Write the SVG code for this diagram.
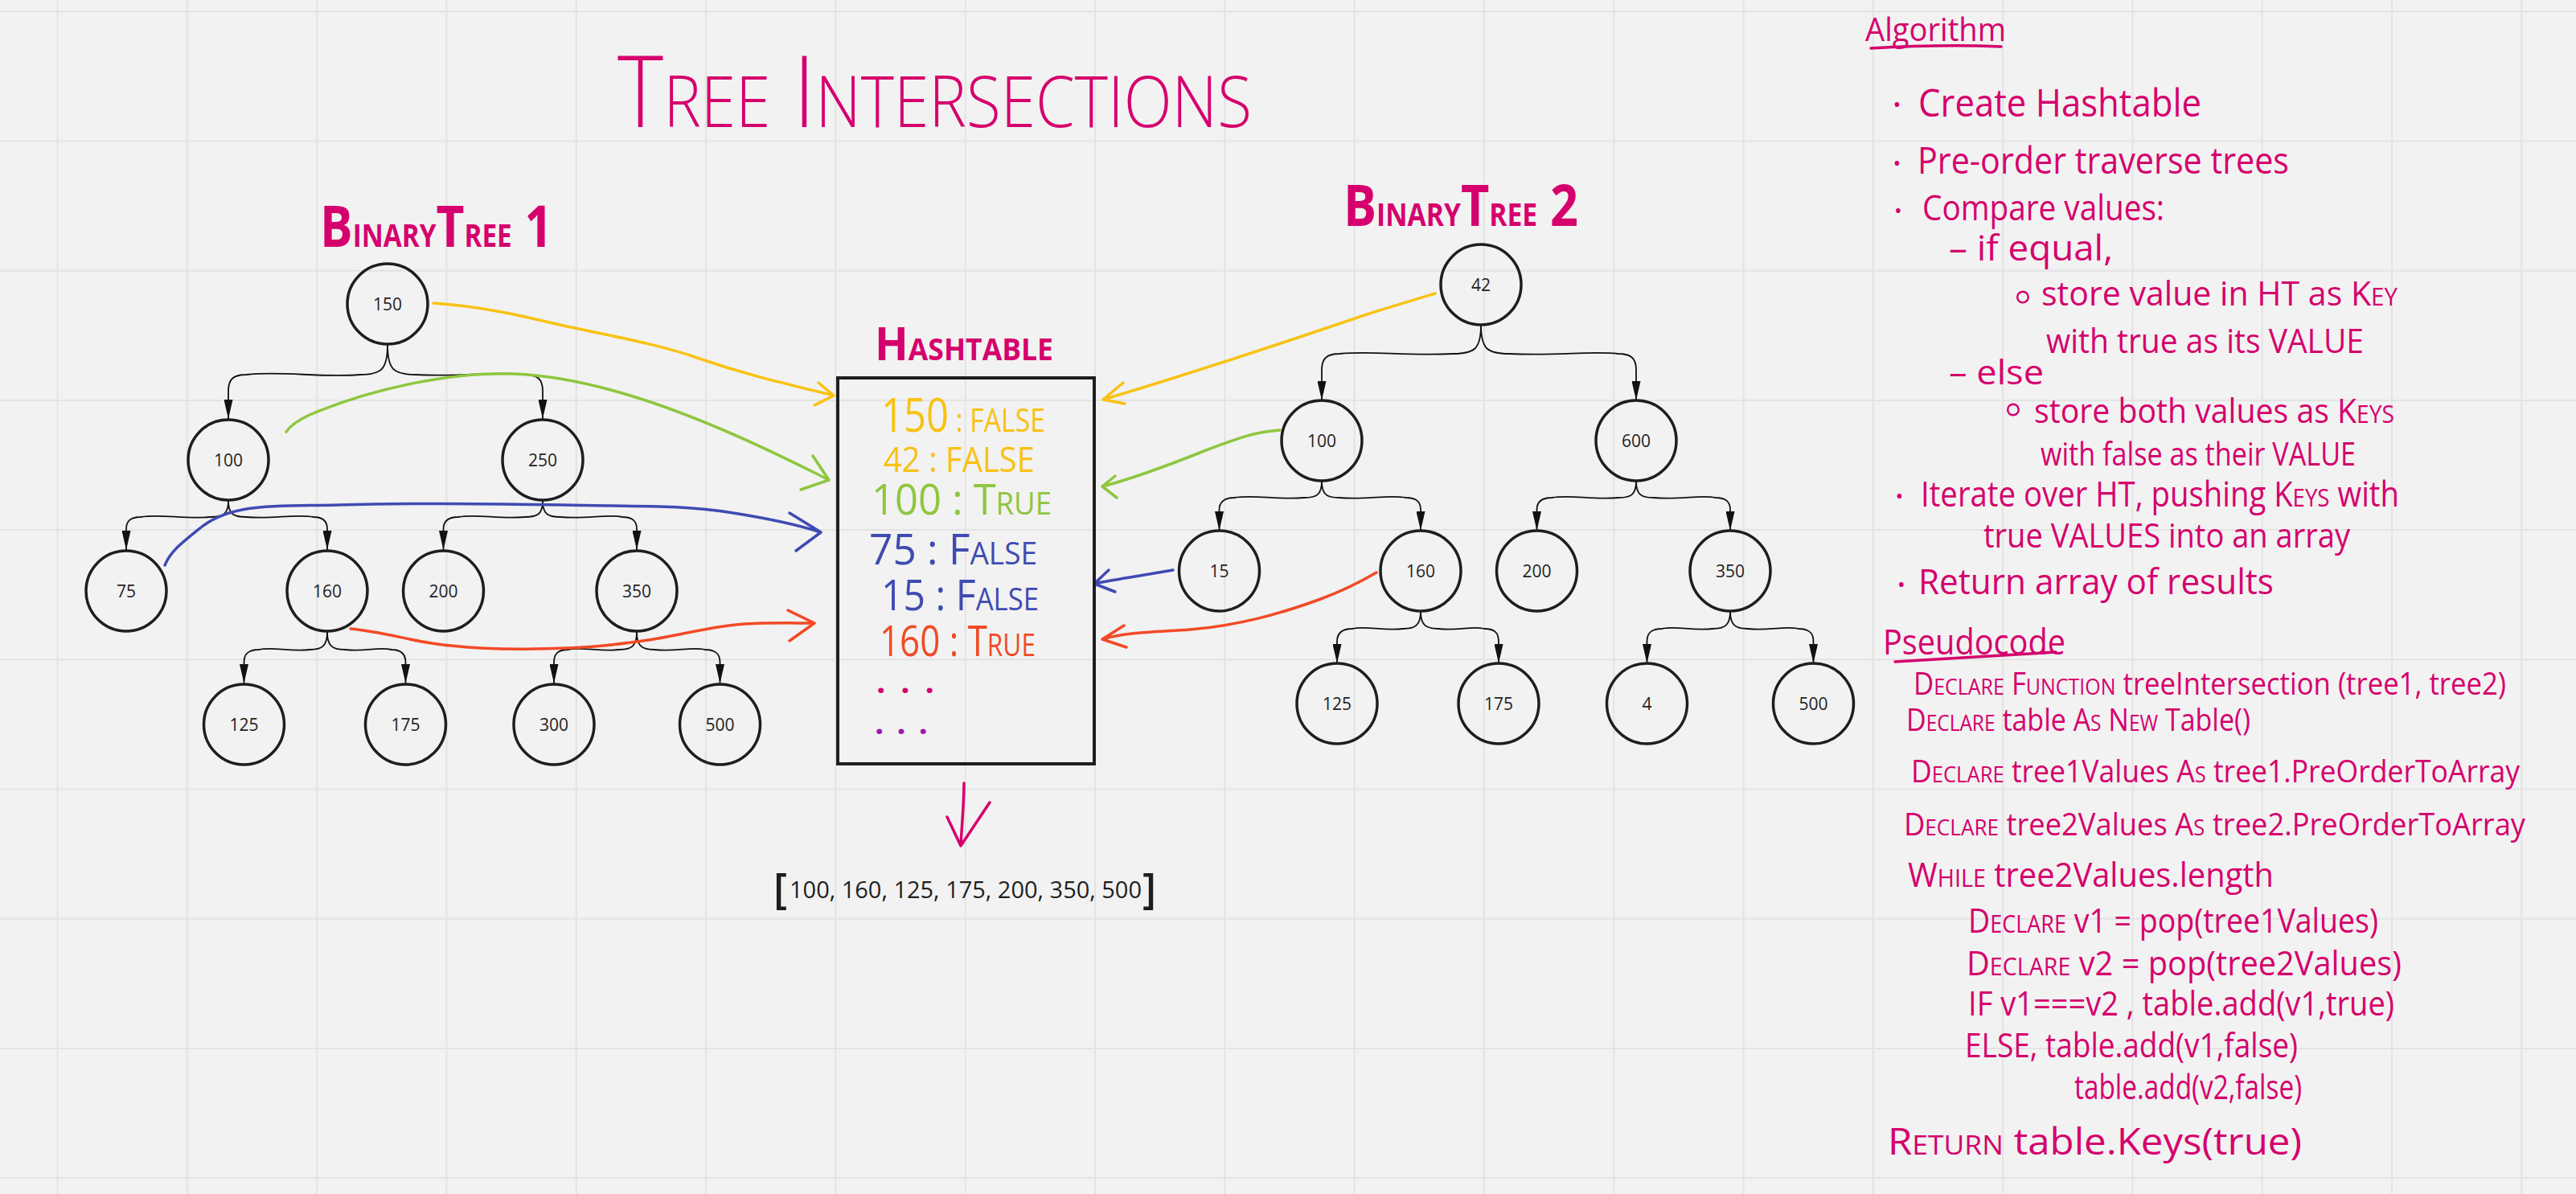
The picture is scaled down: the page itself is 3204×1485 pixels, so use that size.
<svg xmlns="http://www.w3.org/2000/svg" width="3204" height="1485" viewBox="0 0 3204 1485">
<defs>
<style>
.hw{font-family:"Open Sans","Liberation Sans",sans-serif;fill:#d5006d}
.s{font-size:72%}
.s2{font-size:55%}
.s3{font-size:65%}
.node circle{fill:none;stroke:#1e1e1e;stroke-width:3.5}
.node text{font-family:"Open Sans","Liberation Sans",sans-serif;font-size:21px;fill:#222;text-anchor:middle}
.edge{fill:none;stroke:#111;stroke-width:1.8;marker-end:url(#ah)}
.pen{fill:none;stroke-width:3.5;stroke-linecap:round;stroke-linejoin:round}
.alg{font-family:"Open Sans","Liberation Sans",sans-serif;fill:#d5006d}
</style>
<marker id="ah" markerUnits="userSpaceOnUse" markerWidth="24" markerHeight="11" viewBox="0 0 24 11" refX="24" refY="5.5" orient="auto">
<path d="M0,0 L24,5.5 L0,11 z" fill="#111"/>
</marker>
</defs>
<rect width="3204" height="1485" fill="#f2f2f2"/>
<path d="M71.6,0V1485M232.9,0V1485M394.2,0V1485M555.5,0V1485M716.8,0V1485M878.1,0V1485M1039.4,0V1485M1200.7,0V1485M1362,0V1485M1523.3,0V1485M1684.6,0V1485M1845.9,0V1485M2007.2,0V1485M2168.5,0V1485M2329.8,0V1485M2491.1,0V1485M2652.4,0V1485M2813.7,0V1485M2975,0V1485M3136.3,0V1485M0,14.3H3204M0,175.5H3204M0,336.7H3204M0,497.9H3204M0,659.1H3204M0,820.3H3204M0,981.5H3204M0,1142.7H3204M0,1303.9H3204M0,1465.1H3204" stroke="#e3e3e3" stroke-width="2" fill="none"/>

<text class="hw" x="768" y="158" font-size="124" font-weight="300" textLength="789" lengthAdjust="spacingAndGlyphs">T<tspan class="s">REE</tspan> I<tspan class="s">NTERSECTIONS</tspan></text>
<text class="hw" x="398" y="307" font-size="72" font-weight="700" textLength="289" lengthAdjust="spacingAndGlyphs">B<tspan class="s2">INARY</tspan>T<tspan class="s2">REE</tspan> 1</text>
<text class="hw" x="1671" y="281" font-size="72" font-weight="700" textLength="292" lengthAdjust="spacingAndGlyphs">B<tspan class="s2">INARY</tspan>T<tspan class="s2">REE</tspan> 2</text>
<text class="hw" x="1088" y="448" font-size="58" font-weight="700" textLength="222" lengthAdjust="spacingAndGlyphs">H<tspan class="s3">ASHTABLE</tspan></text>

<g id="connectors">
<path class="edge" d="M482,429 C482,460 474,466 447,466 C400,470 350,461 306,466 C290,466 284,472 284,486 L284,521"/>
<path class="edge" d="M482,429 C482,460 490,466 517,466 C580,469 620,461 653,466 C669,466 675,472 675,486 L675,521"/>
<path class="edge" d="M284,623 C284,639 278,643 262,643 C230,646 200,639 175,643 C162,643 157,648 157,658 L157,684"/>
<path class="edge" d="M284,623 C284,639 290,643 306,643 C340,646 365,639 390,643 C402,643 407,648 407,658 L407,684"/>
<path class="edge" d="M675,623 C675,639 669,643 653,643 C620,646 595,639 570,643 C557,643 551.5,648 551.5,658 L551.5,684"/>
<path class="edge" d="M675,623 C675,639 681,643 697,643 C730,646 755,639 774,643 C787,643 792,648 792,658 L792,684"/>
<path class="edge" d="M407,786 C407,803 401,808 385,808 C360,811 340,804 322,808 C309,808 303.5,813 303.5,824 L303.5,850"/>
<path class="edge" d="M407,786 C407,803 413,808 429,808 C455,811 470,804 487,808 C499,808 504.5,813 504.5,824 L504.5,850"/>
<path class="edge" d="M792,786 C792,803 786,808 770,808 C745,811 725,804 707,808 C694,808 689,813 689,824 L689,850"/>
<path class="edge" d="M792,786 C792,803 798,808 814,808 C840,811 860,804 877,808 C890,808 895.5,813 895.5,824 L895.5,850"/>
<path class="edge" d="M1842,404 C1842,434 1834,440 1807,440 C1745,443 1710,436 1666,440 C1650,440 1644,446 1644,460 L1644,498"/>
<path class="edge" d="M1842,404 C1842,434 1850,440 1877,440 C1940,443 1975,436 2013,440 C2029,440 2035,446 2035,460 L2035,498"/>
<path class="edge" d="M1644,598 C1644,615 1638,619 1622,619 C1590,622 1560,615 1535,619 C1522,619 1516.5,624 1516.5,634 L1516.5,660"/>
<path class="edge" d="M1644,598 C1644,615 1650,619 1666,619 C1700,622 1725,615 1749,619 C1762,619 1767,624 1767,634 L1767,660"/>
<path class="edge" d="M2035,598 C2035,615 2029,619 2013,619 C1980,622 1955,615 1930,619 C1917,619 1911.5,624 1911.5,634 L1911.5,660"/>
<path class="edge" d="M2035,598 C2035,615 2041,619 2057,619 C2090,622 2115,615 2134,619 C2147,619 2152,624 2152,634 L2152,660"/>
<path class="edge" d="M1767,760 C1767,777 1761,782 1745,782 C1720,785 1700,778 1682,782 C1669,782 1663,787 1663,798 L1663,825"/>
<path class="edge" d="M1767,760 C1767,777 1773,782 1789,782 C1815,785 1830,778 1846,782 C1859,782 1864,787 1864,798 L1864,825"/>
<path class="edge" d="M2152,760 C2152,777 2146,782 2130,782 C2105,785 2085,778 2067,782 C2054,782 2048.5,787 2048.5,798 L2048.5,825"/>
<path class="edge" d="M2152,760 C2152,777 2158,782 2174,782 C2200,785 2220,778 2237,782 C2250,782 2255.5,787 2255.5,798 L2255.5,825"/>

<path class="pen" stroke="#f8c213" d="M539,377 C600,381 650,393 701,405 C760,418 820,428 870,446 C940,470 990,480 1037,492 M1018,476 L1037,492 L1013,504"/>
<path class="pen" stroke="#f8c213" d="M1785,365 C1745,377 1725,383 1700,391 C1600,425 1480,465 1372,497 M1397,476 L1372,497 L1399,502"/>
<path class="pen" stroke="#8ec63f" d="M356,537 C362,528 372,522 385,516 C470,480 570,462 640,465 C760,470 900,530 1031,597 M1011,567 L1031,597 L996,609"/>
<path class="pen" stroke="#8ec63f" d="M1592,535 C1560,537 1540,545 1500,560 C1450,580 1410,595 1371,605 M1387,592 L1371,605 L1389,619"/>
<path class="pen" stroke="#3f4bb2" d="M205,703 C212,686 225,676 250,656 C290,624 350,630 421,628 C500,626 600,626 700,628 C800,630 850,628 912,638 C950,644 990,652 1021,662 M982,638 L1021,662 L990,685"/>
<path class="pen" stroke="#3f4bb2" d="M1459,709 C1420,716 1390,720 1361,726 M1379,709 L1361,726 L1387,736"/>
<path class="pen" stroke="#f24a26" d="M436,782 C480,786 520,800 561,803 C600,807 630,808 666,807 C740,806 780,800 807,796 C850,789 890,778 926,776 C960,774 990,775 1013,775 M980,759 L1013,775 L982,797"/>
<path class="pen" stroke="#f24a26" d="M1712,712 C1690,725 1670,735 1640,746 C1590,764 1540,778 1480,783 C1440,786 1400,786 1371,795 M1398,778 L1371,795 L1401,805"/>
<path class="pen" stroke="#d5006d" d="M1199,974 C1199,1000 1196,1030 1195,1052 M1178,1016 L1195,1052 L1231,998"/>
</g>

<g id="tree1">
<g class="node" id="t1-150"><circle cx="482" cy="378" r="50"/><text x="482" y="385.5">150</text></g>
<g class="node" id="t1-100"><circle cx="284" cy="572" r="50"/><text x="284" y="579.5">100</text></g>
<g class="node" id="t1-250"><circle cx="675" cy="572" r="50"/><text x="675" y="579.5">250</text></g>
<g class="node" id="t1-75"><circle cx="157" cy="735" r="50"/><text x="157" y="742.5">75</text></g>
<g class="node" id="t1-160"><circle cx="407" cy="735" r="50"/><text x="407" y="742.5">160</text></g>
<g class="node" id="t1-200"><circle cx="551.5" cy="735" r="50"/><text x="551.5" y="742.5">200</text></g>
<g class="node" id="t1-350"><circle cx="792" cy="735" r="50"/><text x="792" y="742.5">350</text></g>
<g class="node" id="t1-125"><circle cx="303.5" cy="901" r="50"/><text x="303.5" y="908.5">125</text></g>
<g class="node" id="t1-175"><circle cx="504.5" cy="901" r="50"/><text x="504.5" y="908.5">175</text></g>
<g class="node" id="t1-300"><circle cx="689" cy="901" r="50"/><text x="689" y="908.5">300</text></g>
<g class="node" id="t1-500"><circle cx="895.5" cy="901" r="50"/><text x="895.5" y="908.5">500</text></g>
</g>

<g id="tree2">
<g class="node" id="t2-42"><circle cx="1842" cy="354" r="50"/><text x="1842" y="361.5">42</text></g>
<g class="node" id="t2-100"><circle cx="1644" cy="548" r="50"/><text x="1644" y="555.5">100</text></g>
<g class="node" id="t2-600"><circle cx="2035" cy="548" r="50"/><text x="2035" y="555.5">600</text></g>
<g class="node" id="t2-15"><circle cx="1516.5" cy="710" r="50"/><text x="1516.5" y="717.5">15</text></g>
<g class="node" id="t2-160"><circle cx="1767" cy="710" r="50"/><text x="1767" y="717.5">160</text></g>
<g class="node" id="t2-200"><circle cx="1911.5" cy="710" r="50"/><text x="1911.5" y="717.5">200</text></g>
<g class="node" id="t2-350"><circle cx="2152" cy="710" r="50"/><text x="2152" y="717.5">350</text></g>
<g class="node" id="t2-125"><circle cx="1663" cy="875" r="50"/><text x="1663" y="882.5">125</text></g>
<g class="node" id="t2-175"><circle cx="1864" cy="875" r="50"/><text x="1864" y="882.5">175</text></g>
<g class="node" id="t2-4"><circle cx="2048.5" cy="875" r="50"/><text x="2048.5" y="882.5">4</text></g>
<g class="node" id="t2-500"><circle cx="2255.5" cy="875" r="50"/><text x="2255.5" y="882.5">500</text></g>
</g>

<g id="hashtable">
<rect x="1042" y="470" width="319" height="480" fill="none" stroke="#1e1e1e" stroke-width="4"/>
<text class="hw" x="1096" y="537" font-size="40" style="fill:#f8c213" textLength="204" lengthAdjust="spacingAndGlyphs"><tspan font-size="58">150</tspan> : FALSE</text>
<text class="hw" x="1099" y="587" font-size="44" style="fill:#f8c213" textLength="188" lengthAdjust="spacingAndGlyphs">42 : FALSE</text>
<text class="hw" x="1084" y="640" font-size="53" style="fill:#8ec63f" textLength="224" lengthAdjust="spacingAndGlyphs">100 : T<tspan class="s">RUE</tspan></text>
<text class="hw" x="1081" y="702" font-size="53" style="fill:#3f4bb2" textLength="209" lengthAdjust="spacingAndGlyphs">75 : F<tspan class="s">ALSE</tspan></text>
<text class="hw" x="1096" y="759" font-size="53" style="fill:#3f4bb2" textLength="196" lengthAdjust="spacingAndGlyphs">15 : F<tspan class="s">ALSE</tspan></text>
<text class="hw" x="1094" y="816" font-size="53" style="fill:#f24a26" textLength="194" lengthAdjust="spacingAndGlyphs">160 : T<tspan class="s">RUE</tspan></text>
<text class="hw" x="1090" y="862" font-size="40" font-weight="700" textLength="72" lengthAdjust="spacing">. . .</text>
<text class="hw" x="1088" y="913" font-size="40" font-weight="700" style="fill:#9c1ab1" textLength="66" lengthAdjust="spacing">. . .</text>
</g>

<g id="result">
<text x="962" y="1124" font-family="Open Sans, Liberation Sans, sans-serif" font-size="52" font-weight="600" fill="#1e1e1e">[</text>
<text x="982" y="1117" font-family="Open Sans, Liberation Sans, sans-serif" font-size="29" fill="#1e1e1e" textLength="438" lengthAdjust="spacingAndGlyphs">100, 160, 125, 175, 200, 350, 500</text>
<text x="1421" y="1124" font-family="Open Sans, Liberation Sans, sans-serif" font-size="52" font-weight="600" fill="#1e1e1e">]</text>
</g>

<g id="algorithm" class="alg">
<text x="2320" y="51" font-size="40" textLength="175" lengthAdjust="spacingAndGlyphs">Algorithm</text>
<path class="pen" stroke="#d5006d" d="M2327,60 C2380,57 2440,56 2489,58"/>
<text x="2359.5" y="139" font-size="26" text-anchor="middle">•</text>
<text x="2386" y="145" font-size="48" textLength="352" lengthAdjust="spacingAndGlyphs">Create Hashtable</text>
<text x="2359.5" y="212" font-size="26" text-anchor="middle">•</text>
<text x="2385" y="216" font-size="46" textLength="462" lengthAdjust="spacingAndGlyphs">Pre-order traverse trees</text>
<text x="2361" y="271" font-size="26" text-anchor="middle">•</text>
<text x="2391" y="274" font-size="44" textLength="301" lengthAdjust="spacingAndGlyphs">Compare values:</text>
<text x="2424" y="324" font-size="44" textLength="204" lengthAdjust="spacingAndGlyphs">– if equal,</text>
<text x="2516" y="390" font-size="66" text-anchor="middle">◦</text>
<text x="2539" y="380" font-size="42" textLength="443" lengthAdjust="spacingAndGlyphs">store value in HT as K<tspan class="s">EY</tspan></text>
<text x="2545" y="439" font-size="42" textLength="395" lengthAdjust="spacingAndGlyphs">with true as its VALUE</text>
<text x="2424" y="478" font-size="42" textLength="118" lengthAdjust="spacingAndGlyphs">– else</text>
<text x="2504" y="530" font-size="66" text-anchor="middle">◦</text>
<text x="2530" y="526" font-size="42" textLength="448" lengthAdjust="spacingAndGlyphs">store both values as K<tspan class="s">EYS</tspan></text>
<text x="2538" y="579" font-size="40" textLength="392" lengthAdjust="spacingAndGlyphs">with false as their VALUE</text>
<text x="2362.5" y="626" font-size="26" text-anchor="middle">•</text>
<text x="2389" y="630" font-size="44" textLength="595" lengthAdjust="spacingAndGlyphs">Iterate over HT, pushing K<tspan class="s">EYS</tspan> with</text>
<text x="2467" y="681" font-size="42" textLength="456" lengthAdjust="spacingAndGlyphs">true VALUES into an array</text>
<text x="2365" y="736" font-size="26" text-anchor="middle">•</text>
<text x="2386" y="739" font-size="44" textLength="442" lengthAdjust="spacingAndGlyphs">Return array of results</text>
</g>

<g id="pseudocode" class="alg">
<text x="2342" y="814" font-size="44" textLength="227" lengthAdjust="spacingAndGlyphs">Pseudocode</text>
<path class="pen" stroke="#d5006d" d="M2357,823 L2557,811"/>
<text x="2380" y="864" font-size="38" textLength="737" lengthAdjust="spacingAndGlyphs">D<tspan class="s">ECLARE</tspan> F<tspan class="s">UNCTION</tspan> treeIntersection (tree1, tree2)</text>
<text x="2371" y="909" font-size="38" textLength="428" lengthAdjust="spacingAndGlyphs">D<tspan class="s">ECLARE</tspan> table A<tspan class="s">S</tspan> N<tspan class="s">EW</tspan> Table()</text>
<text x="2377" y="973" font-size="38" textLength="757" lengthAdjust="spacingAndGlyphs">D<tspan class="s">ECLARE</tspan> tree1Values A<tspan class="s">S</tspan> tree1.PreOrderToArray</text>
<text x="2368" y="1039" font-size="38" textLength="773" lengthAdjust="spacingAndGlyphs">D<tspan class="s">ECLARE</tspan> tree2Values A<tspan class="s">S</tspan> tree2.PreOrderToArray</text>
<text x="2373" y="1103" font-size="42" textLength="455" lengthAdjust="spacingAndGlyphs">W<tspan class="s">HILE</tspan> tree2Values.length</text>
<text x="2448" y="1160" font-size="42" textLength="510" lengthAdjust="spacingAndGlyphs">D<tspan class="s">ECLARE</tspan> v1 = pop(tree1Values)</text>
<text x="2446" y="1213" font-size="42" textLength="541" lengthAdjust="spacingAndGlyphs">D<tspan class="s">ECLARE</tspan> v2 = pop(tree2Values)</text>
<text x="2448" y="1263" font-size="42" textLength="530" lengthAdjust="spacingAndGlyphs">IF v1===v2 , table.add(v1,true)</text>
<text x="2444" y="1315" font-size="42" textLength="414" lengthAdjust="spacingAndGlyphs">ELSE, table.add(v1,false)</text>
<text x="2580" y="1367" font-size="42" textLength="283" lengthAdjust="spacingAndGlyphs">table.add(v2,false)</text>
<text x="2348" y="1436" font-size="46" textLength="515" lengthAdjust="spacingAndGlyphs">R<tspan class="s">ETURN</tspan> table.Keys(true)</text>
</g>
</svg>
